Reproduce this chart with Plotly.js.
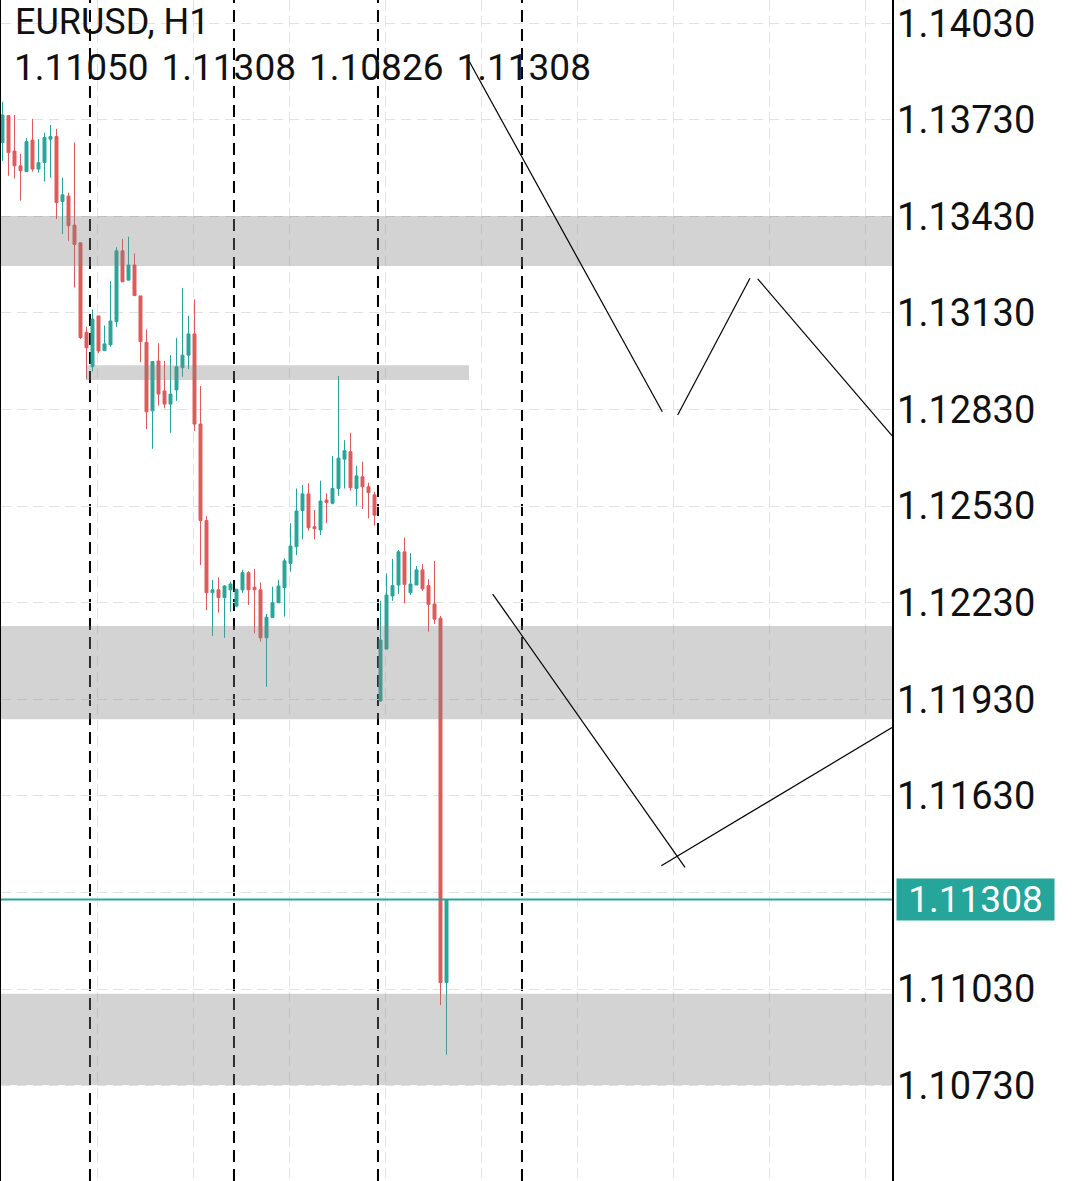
<!DOCTYPE html>
<html>
<head>
<meta charset="utf-8">
<script src="https://cdn.plot.ly/plotly-3.0.1.min.js"></script>
<style>
  html, body { margin: 0; padding: 0; background: #ffffff; }
  #chart { width: 1080px; height: 1181px; }
</style>
</head>
<body>
<div id="chart"></div>
<script>
// ---- Data (EURUSD H1) ----
const symbolTitle = "EURUSD, H1";
const opens = [1.13659,1.13743,1.13633,1.13587,1.13569,1.13667,1.13577,1.13597,1.13670,1.13678,
1.13476,1.13493,1.13403,1.13348,1.13070,1.12963,1.13121,1.13013,1.13031,1.13103,
1.13323,1.13232,1.13279,1.13183,1.13039,1.12826,1.12981,1.12888,1.12847,1.12891,
1.12960,1.12999,1.13065,1.12785,1.12485,1.12261,1.12270,1.12246,1.12270,1.12220,
1.12270,1.12323,1.12278,1.12270,1.12121,1.12184,1.12230,1.12277,1.12352,1.12404,
1.12516,1.12568,1.12466,1.12456,1.12549,1.12539,1.12585,1.12676,1.12699,1.12585,
1.12621,1.12590,1.12565,1.11925,1.12086,1.12251,1.12285,1.12388,1.12261,1.12285,
1.12332,1.12283,1.12226,1.12182,1.11050];
const highs = [1.13786,1.13743,1.13745,1.13624,1.13673,1.13733,1.13670,1.13690,1.13714,1.13702,
1.13550,1.13504,1.13660,1.13348,1.13087,1.13141,1.13121,1.13091,1.13229,1.13334,
1.13360,1.13367,1.13315,1.13183,1.13079,1.12979,1.13036,1.12981,1.12999,1.13053,
1.13207,1.13121,1.13172,1.12903,1.12499,1.12301,1.12309,1.12285,1.12295,1.12272,
1.12332,1.12328,1.12335,1.12293,1.12195,1.12280,1.12301,1.12368,1.12477,1.12585,
1.12596,1.12601,1.12518,1.12609,1.12570,1.12686,1.12934,1.12735,1.12758,1.12655,
1.12668,1.12603,1.12575,1.12236,1.12321,1.12366,1.12394,1.12432,1.12384,1.12344,
1.12350,1.12303,1.12360,1.12189,1.11308];
const lows = [1.13603,1.13556,1.13548,1.13479,1.13569,1.13569,1.13566,1.13538,1.13550,1.13422,
1.13375,1.13354,1.13209,1.13049,1.12924,1.12948,1.13005,1.13013,1.13025,1.13087,
1.13227,1.13232,1.13184,1.12977,1.12769,1.12708,1.12842,1.12834,1.12758,1.12857,
1.12932,1.12956,1.12764,1.12347,1.12207,1.12127,1.12199,1.12121,1.12202,1.12216,
1.12261,1.12223,1.12135,1.12109,1.11969,1.12184,1.12230,1.12187,1.12326,1.12378,
1.12427,1.12454,1.12427,1.12440,1.12477,1.12536,1.12562,1.12585,1.12578,1.12531,
1.12521,1.12492,1.12469,1.11922,1.12086,1.12236,1.12257,1.12228,1.12254,1.12285,
1.12267,1.12140,1.12164,1.10980,1.10826];
const closes = [1.13745,1.13628,1.13587,1.13572,1.13662,1.13577,1.13597,1.13675,1.13678,1.13473,
1.13497,1.13401,1.13343,1.13054,1.13022,1.13111,1.13012,1.13034,1.13105,1.13323,
1.13227,1.13279,1.13184,1.13041,1.12823,1.12979,1.12878,1.12847,1.12878,1.12963,
1.12999,1.13065,1.12785,1.12485,1.12261,1.12270,1.12246,1.12282,1.12288,1.12272,
1.12323,1.12270,1.12270,1.12121,1.12185,1.12230,1.12282,1.12360,1.12406,1.12515,
1.12568,1.12463,1.12460,1.12546,1.12541,1.12585,1.12679,1.12702,1.12587,1.12624,
1.12590,1.12572,1.12502,1.12114,1.12254,1.12283,1.12388,1.12287,1.12288,1.12332,
1.12273,1.12225,1.12179,1.11050,1.11308];

// current bar OHLC shown in the header, and last price
const lastBarOHLC = ["1.11050", "1.11308", "1.10826", "1.11308"];
const lastPrice = 1.11308;

// price axis ticks (the 1.11330 label is hidden behind the last-price tag)
const priceTicks = [1.14030,1.13730,1.13430,1.13130,1.12830,1.12530,1.12230,1.11930,1.11630,1.11330,1.11030,1.10730];
const priceTickLabels = ["1.14030","1.13730","1.13430","1.13130","1.12830","1.12530","1.12230","1.11930","1.11630","","1.11030","1.10730"];

// first bar index of each new day (period separators)
const dayStartBars = [15, 39, 63, 87];

// supply / demand zones: [low price, high price]
const zoneFull1 = [1.13276, 1.13431];
const zoneFull2 = [1.11868, 1.12158];
const zoneFull3 = [1.10732, 1.11015];
const zoneShort = [1.12922, 1.12968];
const zoneShortBars = [13.92, 77.75];

// drawn trend lines: [bar0, price0, bar1, price1]
const trendLines = [
  [77.8, 1.13911, 109.97, 1.12823],
  [112.53, 1.12813, 124.58, 1.13238],
  [125.87, 1.13236, 148.25, 1.12749],
  [81.7, 1.12257, 113.75, 1.11408],
  [109.8, 1.11413, 148.25, 1.11842]
];

// ---- Build ----
const barIndex = opens.map((_, i) => i);
const BULL = '#26a69a';
const BEAR = '#e05a57';
const GRID = '#dde4e8';
const ZONE = 'rgba(128,128,128,0.35)';

const trace = {
  type: 'candlestick',
  x: barIndex, open: opens, high: highs, low: lows, close: closes,
  width: 0.38,
  whiskerwidth: 0,
  increasing: { line: { color: BULL, width: 1 }, fillcolor: BULL },
  decreasing: { line: { color: BEAR, width: 1 }, fillcolor: BEAR },
  hoverinfo: 'skip',
  showlegend: false
};

const shapes = [];
dayStartBars.forEach(b => shapes.push({
  type: 'line', xref: 'x', yref: 'paper', x0: b - 0.42, x1: b - 0.42, y0: 0, y1: 1,
  line: { color: '#000000', width: 2, dash: '12px,7px' }, layer: 'below'
}));
[zoneFull1, zoneFull2, zoneFull3].forEach(z => shapes.push({
  type: 'rect', xref: 'paper', yref: 'y', x0: 0, x1: 1, y0: z[0], y1: z[1],
  fillcolor: ZONE, line: { width: 0 }, layer: 'above'
}));
shapes.push({
  type: 'rect', xref: 'x', yref: 'y', x0: zoneShortBars[0], x1: zoneShortBars[1],
  y0: zoneShort[0], y1: zoneShort[1], fillcolor: ZONE, line: { width: 0 }, layer: 'above'
});
trendLines.forEach(t => shapes.push({
  type: 'line', xref: 'x', yref: 'y', x0: t[0], y0: t[1], x1: t[2], y1: t[3],
  line: { color: '#000000', width: 1.2 }, layer: 'above'
}));
shapes.push({
  type: 'line', xref: 'paper', yref: 'y', x0: 0, x1: 1, y0: lastPrice, y1: lastPrice,
  line: { color: BULL, width: 2 }, layer: 'above'
});

const plotW = 891, plotH = 1181;
const annotations = [
  { xref: 'paper', yref: 'paper', x: 12 / plotW, y: 1 - 22 / plotH, xanchor: 'left', yanchor: 'middle',
    text: symbolTitle, showarrow: false, font: { family: 'Roboto', size: 36, color: '#111111' } },
  { xref: 'paper', yref: 'paper', x: 11 / plotW, y: 1 - 68 / plotH, xanchor: 'left', yanchor: 'middle',
    text: lastBarOHLC.join(' \u200A'), showarrow: false, font: { family: 'Roboto', size: 37, color: '#111111' } },
  { xref: 'paper', yref: 'y', x: 1, y: lastPrice, xanchor: 'left', yanchor: 'middle', xshift: 4,
    text: lastPrice.toFixed(5), showarrow: false, bgcolor: BULL, width: 153, height: 37, borderpad: 2,
    align: 'center', font: { family: 'Roboto', size: 37, color: '#ffffff' } }
];

const layout = {
  width: 1080, height: 1181,
  margin: { l: 1, r: 188, t: 0, b: 0 },
  paper_bgcolor: '#ffffff', plot_bgcolor: '#ffffff',
  showlegend: false,
  xaxis: {
    range: [-0.25, 148.25], showticklabels: false, tickmode: 'linear', tick0: 15.75, dtick: 16,
    showgrid: true, gridcolor: GRID, gridwidth: 1, griddash: '10px,6px',
    zeroline: false, showline: false, ticks: '', rangeslider: { visible: false }, fixedrange: true
  },
  yaxis: {
    side: 'right', range: [1.104337, 1.141022], tickmode: 'array', tickvals: priceTicks, ticktext: priceTickLabels,
    showgrid: true, gridcolor: GRID, gridwidth: 1, griddash: '10px,6px',
    showline: true, linecolor: '#000000', linewidth: 1.5, mirror: true,
    ticks: '', ticklabelstandoff: -4, zeroline: false, fixedrange: true,
    tickfont: { family: 'Roboto', size: 38, color: '#111111' }
  },
  shapes: shapes,
  annotations: annotations
};

Plotly.newPlot('chart', [trace], layout, { staticPlot: true, displayModeBar: false });
</script>
</body>
</html>
